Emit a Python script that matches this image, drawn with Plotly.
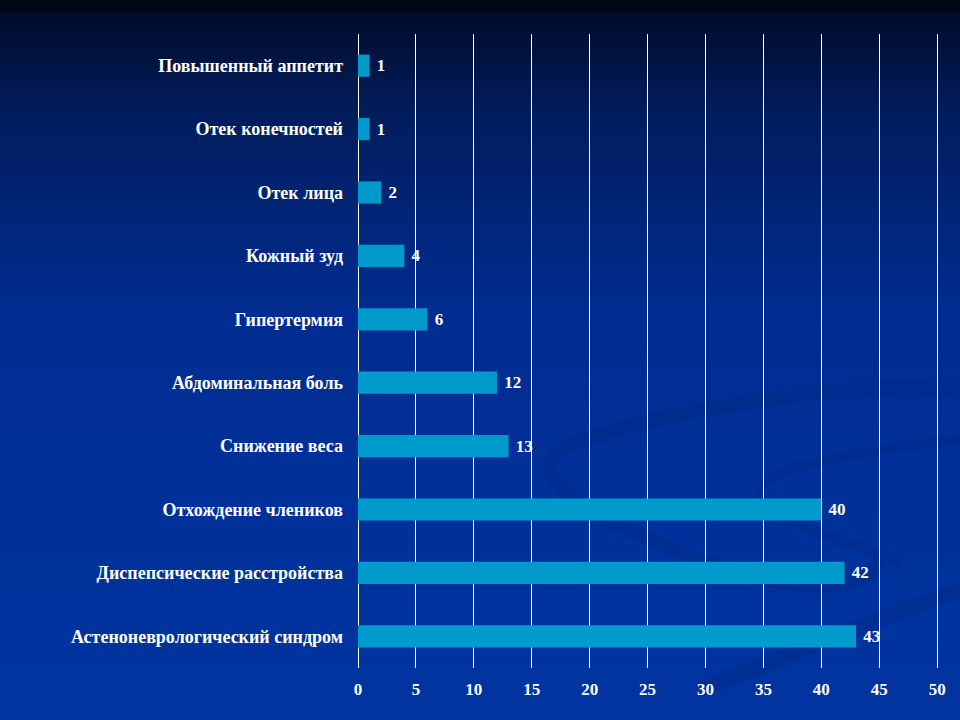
import base64
from plotly import graph_objects

categories = [
    'Астеноневрологический синдром',
    'Диспепсические расстройства',
    'Отхождение члеников',
    'Снижение веса',
    'Абдоминальная боль',
    'Гипертермия',
    'Кожный зуд',
    'Отек лица',
    'Отек конечностей',
    'Повышенный аппетит',
]
values = [43, 42, 40, 13, 12, 6, 4, 2, 1, 1]
x_ticks = [0, 5, 10, 15, 20, 25, 30, 35, 40, 45, 50]

W, H = 960, 720
x_max = 50.5  # a bit past 50 so the last gridline is drawn
ml, mt, mb = 358, 34, 52
mr = int(round(W - ml - 579 * x_max / 50))
pw, ph = W - ml - mr, H - mt - mb

# slide-style background: dark strip on top, navy-to-blue gradient, faint swirls
svg = f'''<svg xmlns="http://www.w3.org/2000/svg" width="{W}" height="{H}" viewBox="0 0 {W} {H}">
<defs><linearGradient id="g" x1="0" y1="0" x2="0" y2="1">
<stop offset="0" stop-color="#010a24"/>
<stop offset="0.15" stop-color="#021c5a"/>
<stop offset="0.42" stop-color="#002c8f"/>
<stop offset="0.7" stop-color="#00319a"/>
<stop offset="1" stop-color="#0034a0"/>
</linearGradient></defs>
<rect width="{W}" height="{H}" fill="url(#g)"/>
<rect width="{W}" height="12" fill="#020514"/>
<path d="M960 390 C 820 380, 620 420, 560 450 C 520 480, 600 520, 700 560 C 780 590, 860 600, 880 560" fill="none" stroke="#002a88" stroke-width="14" opacity="0.5"/>
<path d="M960 440 C 860 450, 760 470, 760 490 C 760 520, 840 540, 900 560" fill="none" stroke="#002a88" stroke-width="10" opacity="0.45"/>
<path d="M700 690 C 800 650, 900 610, 960 590" fill="none" stroke="#002a88" stroke-width="16" opacity="0.45"/>
</svg>'''
bg = 'data:image/svg+xml;base64,' + base64.b64encode(svg.encode()).decode()

fig = graph_objects.Figure()
fig.add_trace(graph_objects.Bar(
    y=categories, x=values, orientation='h',
    marker=dict(color='#009acd', line=dict(width=0)),
    text=values, texttemplate=' <b>%{x}</b>', textposition='outside', cliponaxis=False,
    textfont=dict(family='Liberation Serif', size=17, color='white'),
))

fig.update_layout(
    width=W, height=H,
    margin=dict(l=ml, r=mr, t=mt, b=mb),
    paper_bgcolor='#0034a0', plot_bgcolor='rgba(0,0,0,0)',
    bargap=0.65, showlegend=False,
    font=dict(family='Liberation Serif', size=17, color='white'),
    images=[dict(source=bg, xref='paper', yref='paper',
                 x=-ml / pw, y=1 + mt / ph, sizex=W / pw, sizey=H / ph,
                 xanchor='left', yanchor='top', sizing='stretch', layer='below')],
)
fig.update_xaxes(range=[0, x_max], tickvals=x_ticks, ticktext=['<b>' + str(t) + '</b>' for t in x_ticks],
                 showgrid=True, gridcolor='white', gridwidth=1,
                 zeroline=True, zerolinecolor='white', zerolinewidth=1, showline=False,
                 tickfont=dict(family='Liberation Serif', size=17, color='white'),
                 ticks='', ticklabelstandoff=9)
fig.update_yaxes(categoryorder='array', categoryarray=categories,
                 tickvals=categories, ticktext=['<b>' + c + '</b>' for c in categories],
                 showgrid=False, zeroline=False,
                 tickfont=dict(family='Liberation Serif', size=18, color='white'),
                 ticks='', ticklabelstandoff=14)

fig.write_html('out.html', config={'displayModeBar': False},
               post_script="document.body.style.margin='0';")
